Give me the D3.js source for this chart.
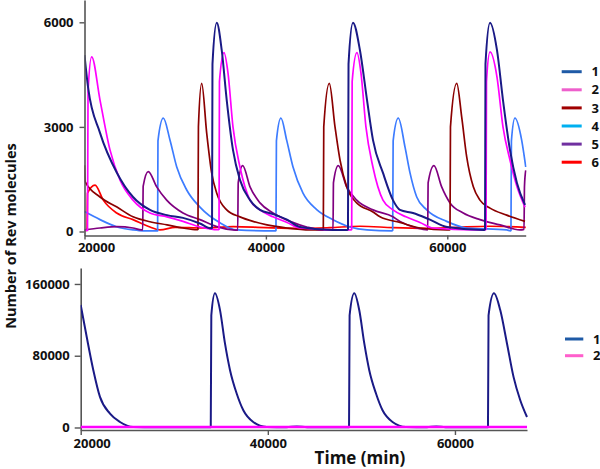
<!DOCTYPE html>
<html><head><meta charset="utf-8">
<script src="https://cdn.jsdelivr.net/npm/d3@7"></script>
<style>
html,body{margin:0;padding:0;background:#fff;}
svg{display:block;font-family:"Open Sans",sans-serif;}
</style></head>
<body><svg id="chart" width="600" height="469"></svg>
<script>
// ---------- DATA ----------
const topNames = ["1","2","3","4","5","6"];
const bottomNames = ["1","2"];
const xTickValues = [20000, 40000, 60000];
const topYTicks = [0, 3000, 6000];
const bottomYTicks = [0, 80000, 160000];

// top panel series: [time (min), Rev molecules]
const top1 = [[20000,5060],[20390,4140],[21710,2830],[23580,1680],[25350,990],[27220,620],[29100,470],[30860,390],[32730,230],[33950,90],[34060,100],[34110,4800],[34580,5990],[35130,5200],[35680,3770],[36370,2340],[37140,1480],[38250,900],[39350,620],[40780,500],[42330,340],[43760,130],[47400,45],[48940,45],[49050,60],[49110,4800],[49600,5990],[50370,5200],[51150,3770],[51810,2620],[52910,1680],[54010,900],[54780,620],[56220,530],[58090,340],[59970,130],[64050,45],[64160,60],[64210,4800],[64710,5990],[65480,5200],[66140,3770],[66910,2340],[67680,1390],[68570,760]];
const top2 = [[20000,30],[20330,30],[20390,4000],[20790,5010],[21710,3770],[22810,2340],[23910,1480],[25350,900],[27220,530],[29100,420],[30860,290],[32730,130],[34720,50],[34830,60],[34880,4300],[35380,5130],[35820,4550],[36370,3000],[37140,1850],[38250,900],[39350,620],[40780,420],[42330,260],[43760,100],[48000,45],[49400,45],[49460,60],[49510,4300],[50040,5130],[50480,4550],[51030,3000],[51800,1850],[52910,900],[54010,620],[55440,420],[56990,260],[58420,100],[63000,45],[64150,45],[64270,60],[64320,4300],[64710,5150],[65480,4430],[66140,3000],[66910,2050],[67680,1290],[68570,700]];
const top3 = [[20000,1900],[20070,1430],[21710,990],[23580,700],[25350,420],[27220,280],[29100,190],[30860,100],[32400,50],[32510,60],[32560,3000],[32920,4250],[33470,2830],[34020,1680],[34580,1100],[35680,620],[37140,420],[38580,290],[40120,190],[42330,100],[44860,45],[46280,45],[46330,60],[46380,3000],[46990,4250],[47620,3000],[48170,2050],[48910,1280],[50010,820],[51810,560],[52580,420],[54780,260],[56990,100],[59970,45],[60250,45],[60300,60],[60350,3000],[61040,4250],[61590,3280],[62140,2140],[62870,1280],[63600,900],[64710,670],[66550,470],[68570,290]];
const top4 = [[20000,570],[21710,340],[23580,130],[25350,45],[26500,20],[28060,20],[28100,2600],[28690,3250],[29430,2620],[30170,1850],[31270,1190],[32730,700],[34940,250],[36780,45],[41000,20],[41110,30],[41160,2600],[41660,3250],[42290,2620],[42990,1850],[44090,1100],[45600,630],[47400,340],[49270,130],[51150,45],[53900,20],[53980,30],[54030,2600],[54600,3250],[55340,2420],[55890,1680],[56630,990],[57730,620],[59930,290],[62140,100],[66550,45],[66960,20],[67020,30],[67070,2600],[67460,3250],[68200,2620],[68650,1850]];
const top5 = [[20000,45],[21710,100],[23580,140],[25350,100],[26300,45],[26420,45],[26470,1300],[27030,1720],[27960,1280],[29060,900],[30860,530],[32730,340],[34580,140],[36370,45],[36890,40],[36950,1400],[37440,1890],[38250,1280],[39350,820],[40780,530],[42660,290],[44500,130],[46300,45],[47400,45],[47450,1400],[47980,1890],[48910,1280],[50010,900],[51810,620],[54010,420],[54780,290],[56630,100],[57840,45],[57890,1400],[58530,1890],[59380,1280],[60300,820],[61760,530],[63600,340],[65810,190],[68000,45],[68460,60],[68510,1300],[68650,1750]];
const top6 = [[20000,30],[20280,30],[20330,1100],[21160,1330],[22070,900],[23550,530],[25350,340],[27220,130],[28320,45],[30000,120],[33000,100],[36400,140],[40000,110],[43800,90],[47000,110],[50400,150],[54000,110],[57700,90],[61000,120],[64700,150],[68650,120]];

// bottom panel series
const bottom1 = [[20000,136500],[20640,101100],[21350,63900],[22060,34070],[23130,15530],[24200,6140],[25590,560],[28000,300],[31000,300],[33900,300],[33960,125000],[34350,149600],[34890,130900],[35420,93700],[35960,63900],[36670,37870],[37380,19200],[38440,6140],[39880,560],[42000,300],[43100,1200],[44200,300],[48680,300],[48740,125000],[49240,149600],[49770,130900],[50310,93700],[50840,63900],[51560,37870],[52260,19200],[53330,6140],[54760,560],[57000,300],[58000,1200],[59000,300],[63530,300],[63590,125000],[64170,149600],[64840,130900],[65560,93700],[66260,56400],[66980,30400],[67700,11700]];
const bottom2 = [[20000,500],[30000,500],[40000,500],[50000,500],[60000,500],[67700,500]];

// ---------- STYLES ----------
const topLineColors = ["#1a1a86","#ff00ff","#8b0000","#3d7cff","#800080","#ff0000"];
const topLegendColors = ["#1f5aa6","#ee5fcc","#a00000","#00b0f0","#7030a0","#ff0000"];
const bottomLineColors = ["#1a1a86","#ff00ff"];
const bottomLegendColors = ["#1f5aa6","#ff5fcc"];

const svg = d3.select("#chart");
const axisColor = "#555";

// ---------- SCALES ----------
const xTop = d3.scaleLinear().domain([20000, 68645]).range([84.5, 525.7]);
const yTop = d3.scaleLinear().domain([-115, 6640]).range([235.5, 0]);
const xBot = d3.scaleLinear().domain([20000, 67700]).range([80.7, 527]);
const yBot = d3.scaleLinear().domain([-2800, 177800]).range([430, 268]);

const defs = svg.append("defs");
defs.append("clipPath").attr("id","clipTop").append("rect")
  .attr("x", xTop.range()[0]).attr("y", 0)
  .attr("width", xTop.range()[1]-xTop.range()[0]+1).attr("height", yTop.range()[0]);
defs.append("clipPath").attr("id","clipBot").append("rect")
  .attr("x", xBot.range()[0]).attr("y", yBot.range()[1])
  .attr("width", xBot.range()[1]-xBot.range()[0]+1).attr("height", yBot.range()[0]-yBot.range()[1]);

function styleAxis(g){
  g.select(".domain").attr("stroke", axisColor).attr("stroke-width", 1.6);
  g.selectAll(".tick line").attr("stroke", axisColor).attr("stroke-width", 1.4);
  g.selectAll(".tick text").attr("fill", "#111").attr("font-size", 13)
    .attr("font-weight", "bold").attr("font-family", "Open Sans");
}

// ---------- TOP PANEL ----------
const topSeries = [top1, top2, top3, top4, top5, top6];
const lineTop = d3.line().x(d => xTop(d[0])).y(d => yTop(d[1])).curve(d3.curveMonotoneX);
const gTopLines = svg.append("g").attr("clip-path", "url(#clipTop)");
const topOrder = [5, 3, 4, 2, 1, 0];
topOrder.forEach(i => {
  gTopLines.append("path").datum(topSeries[i])
    .attr("fill","none").attr("stroke", topLineColors[i])
    .attr("stroke-width", i === 0 ? 2 : 1.7)
    .attr("stroke-linejoin","round")
    .attr("d", lineTop);
});

const gTopX = svg.append("g").attr("transform", `translate(0,${yTop.range()[0]})`)
  .call(d3.axisBottom(xTop).tickValues(xTickValues).tickFormat(d3.format("d")).tickSize(4).tickSizeOuter(0).tickPadding(3.5));
styleAxis(gTopX);
gTopX.selectAll(".tick text").filter(d => d === 20000).attr("dx", 11.5);

const gTopY = svg.append("g").attr("transform", `translate(${xTop.range()[0]},0)`)
  .call(d3.axisLeft(yTop).tickValues(topYTicks).tickFormat(d3.format("d")).tickSize(5).tickSizeOuter(0).tickPadding(6));
styleAxis(gTopY);

// top legend
const legTop = svg.append("g");
topNames.forEach((n, i) => {
  const y = 71.7 + i * 18.1;
  legTop.append("line").attr("x1", 561.7).attr("x2", 581.7).attr("y1", y).attr("y2", y)
    .attr("stroke", topLegendColors[i]).attr("stroke-width", 3);
  legTop.append("text").attr("x", 591.5).attr("y", y).attr("dy", "0.36em")
    .attr("font-size", 13).attr("font-weight", "bold").attr("fill", "#111").text(n);
});

// ---------- BOTTOM PANEL ----------
const bottomSeries = [bottom1, bottom2];
const lineBot = d3.line().x(d => xBot(d[0])).y(d => yBot(d[1])).curve(d3.curveMonotoneX);

const gBotX = svg.append("g").attr("transform", `translate(0,${yBot.range()[0]})`)
  .call(d3.axisBottom(xBot).tickValues(xTickValues).tickFormat(d3.format("d")).tickSize(5).tickSizeOuter(0).tickPadding(3.5));
styleAxis(gBotX);
gBotX.selectAll(".tick text").filter(d => d === 20000).attr("dx", 11);

const gBotY = svg.append("g").attr("transform", `translate(${xBot.range()[0]},0)`)
  .call(d3.axisLeft(yBot).tickValues(bottomYTicks).tickFormat(d3.format("d")).tickSize(6).tickSizeOuter(0).tickPadding(5));
styleAxis(gBotY);

const gBotLines = svg.append("g").attr("clip-path", "url(#clipBot)");
bottomSeries.forEach((s, i) => {
  gBotLines.append("path").datum(s)
    .attr("fill","none").attr("stroke", bottomLineColors[i])
    .attr("stroke-width", i === 0 ? 2 : 2.4)
    .attr("stroke-linejoin","round")
    .attr("d", lineBot);
});

const legBot = svg.append("g");
bottomNames.forEach((n, i) => {
  const y = 339 + i * 16.7;
  legBot.append("line").attr("x1", 565).attr("x2", 583.3).attr("y1", y).attr("y2", y)
    .attr("stroke", bottomLegendColors[i]).attr("stroke-width", 3);
  legBot.append("text").attr("x", 593).attr("y", y).attr("dy", "0.36em")
    .attr("font-size", 13).attr("font-weight", "bold").attr("fill", "#111").text(n);
});

// ---------- TITLES ----------
svg.append("text").attr("transform", "translate(16,236) rotate(-90)")
  .attr("text-anchor", "middle").attr("font-size", 14.5).attr("font-weight", "bold")
  .attr("fill", "#111").text("Number of Rev molecules");
svg.append("text").attr("x", 360).attr("y", 463.5)
  .attr("text-anchor", "middle").attr("font-size", 17).attr("font-weight", "bold")
  .attr("fill", "#111").text("Time (min)");
</script>
</body></html>
